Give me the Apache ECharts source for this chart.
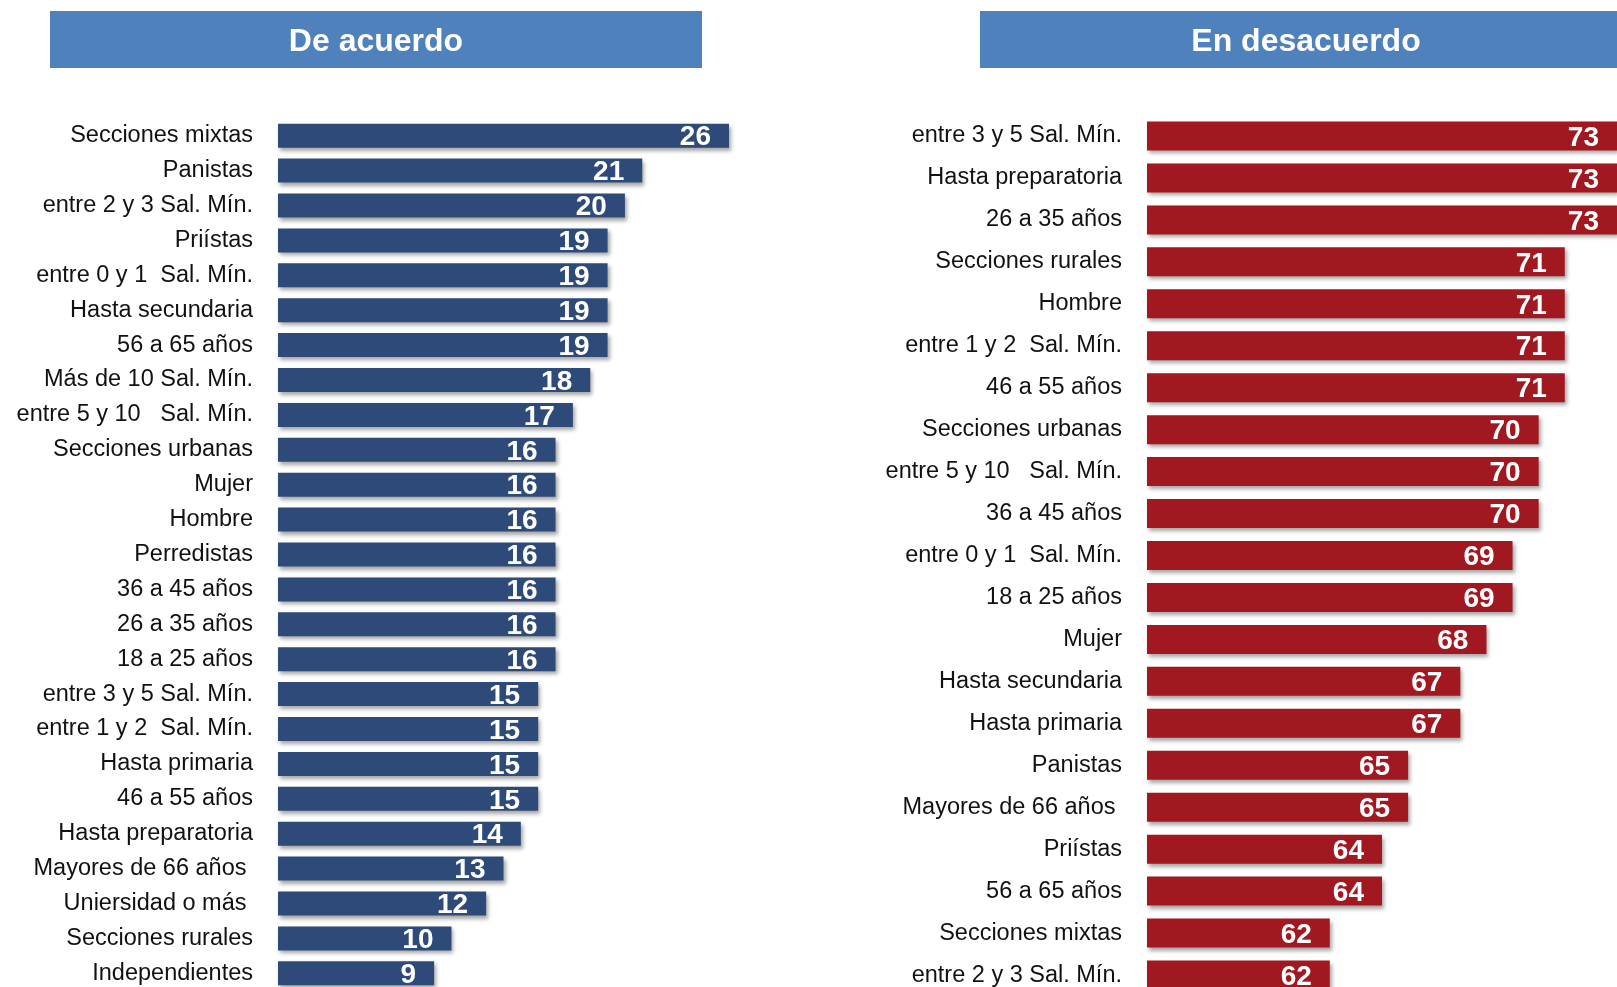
<!DOCTYPE html>
<html>
<head>
<meta charset="utf-8">
<title>De acuerdo / En desacuerdo</title>
<script src="https://cdn.jsdelivr.net/npm/echarts@6/dist/echarts.min.js"></script>
<style>
  * {
    margin: 0;
    padding: 0;
    box-sizing: border-box;
  }
  body {
    background: #fff;
  }
  #chart {
    width: 1617px;
    height: 987px;
  }
</style>
</head>
<body>
<div id="chart"></div>
<script>
// datos: De acuerdo
const acuerdoCats = [
  'Secciones mixtas', 'Panistas', 'entre 2 y 3 Sal. Mín.', 'Priístas',
  'entre 0 y 1  Sal. Mín.', 'Hasta secundaria', '56 a 65 años', 'Más de 10 Sal. Mín.',
  'entre 5 y 10   Sal. Mín.', 'Secciones urbanas', 'Mujer', 'Hombre', 'Perredistas',
  '36 a 45 años', '26 a 35 años', '18 a 25 años', 'entre 3 y 5 Sal. Mín.',
  'entre 1 y 2  Sal. Mín.', 'Hasta primaria', '46 a 55 años', 'Hasta preparatoria',
  'Mayores de 66 años ', 'Uniersidad o más ', 'Secciones rurales', 'Independientes'
]
const acuerdoVals = [26, 21, 20, 19, 19, 19, 19, 18, 17, 16, 16, 16, 16, 16, 16, 16, 15, 15, 15, 15, 14, 13, 12, 10, 9]

// datos: En desacuerdo
const desacuerdoCats = [
  'entre 3 y 5 Sal. Mín.', 'Hasta preparatoria', '26 a 35 años', 'Secciones rurales',
  'Hombre', 'entre 1 y 2  Sal. Mín.', '46 a 55 años', 'Secciones urbanas',
  'entre 5 y 10   Sal. Mín.', '36 a 45 años', 'entre 0 y 1  Sal. Mín.', '18 a 25 años',
  'Mujer', 'Hasta secundaria', 'Hasta primaria', 'Panistas', 'Mayores de 66 años ',
  'Priístas', '56 a 65 años', 'Secciones mixtas', 'entre 2 y 3 Sal. Mín.'
]
const desacuerdoVals = [73, 73, 73, 71, 71, 71, 71, 70, 70, 70, 69, 69, 68, 67, 67, 65, 65, 64, 64, 62, 62]

const titles = ['De acuerdo', 'En desacuerdo']

const font = '"Liberation Sans", Arial, sans-serif'

const chart = echarts.init(document.getElementById('chart'))

const barShadow = {
  shadowBlur: 4,
  shadowOffsetX: 2,
  shadowOffsetY: 3,
  shadowColor: 'rgba(0,0,0,0.35)'
}

const valueLabel = {
  show: true,
  position: 'insideRight',
  distance: 18,
  offset: [0, 2],
  color: '#fff',
  fontFamily: font,
  fontWeight: 'bold',
  fontSize: 28
}

const catLabel = {
  color: '#111',
  fontFamily: font,
  fontSize: 23.5,
  margin: 25,
  padding: [3, 0, 0, 0]
}

chart.setOption({
  animation: false,
  graphic: [
    {
      type: 'rect',
      shape: { x: 50, y: 11, width: 652, height: 57 },
      style: { fill: '#4f81bd' }
    },
    {
      type: 'text',
      x: 376,
      y: 42,
      style: {
        text: titles[0],
        fill: '#fff',
        font: 'bold 32px ' + font,
        textAlign: 'center',
        textVerticalAlign: 'middle'
      }
    },
    {
      type: 'rect',
      shape: { x: 980, y: 11, width: 637, height: 57 },
      style: { fill: '#4f81bd' }
    },
    {
      type: 'text',
      x: 1306,
      y: 42,
      style: {
        text: titles[1],
        fill: '#fff',
        font: 'bold 32px ' + font,
        textAlign: 'center',
        textVerticalAlign: 'middle'
      }
    }
  ],
  // las dos rejillas se salen un poco por abajo, como en el original
  grid: [
    { left: 278, top: 118.25, width: 451, height: 872.5, outerBoundsMode: 'none' },
    { left: 1147, top: 115, width: 470, height: 881, outerBoundsMode: 'none' }
  ],
  xAxis: [
    { gridIndex: 0, type: 'value', min: 0, max: 26, show: false, splitLine: { show: false } },
    { gridIndex: 1, type: 'value', min: 55, max: 73, show: false, splitLine: { show: false } }
  ],
  yAxis: [
    {
      gridIndex: 0,
      type: 'category',
      inverse: true,
      data: acuerdoCats,
      axisLine: { show: false },
      axisTick: { show: false },
      axisLabel: catLabel
    },
    {
      gridIndex: 1,
      type: 'category',
      inverse: true,
      data: desacuerdoCats,
      axisLine: { show: false },
      axisTick: { show: false },
      axisLabel: catLabel
    }
  ],
  series: [
    {
      type: 'bar',
      xAxisIndex: 0,
      yAxisIndex: 0,
      data: acuerdoVals,
      barWidth: 24,
      itemStyle: Object.assign({ color: '#2d4a78' }, barShadow),
      label: valueLabel
    },
    {
      type: 'bar',
      xAxisIndex: 1,
      yAxisIndex: 1,
      data: desacuerdoVals,
      barWidth: 29,
      itemStyle: Object.assign({ color: '#a21820' }, barShadow),
      label: valueLabel
    }
  ]
})
</script>
</body>
</html>
